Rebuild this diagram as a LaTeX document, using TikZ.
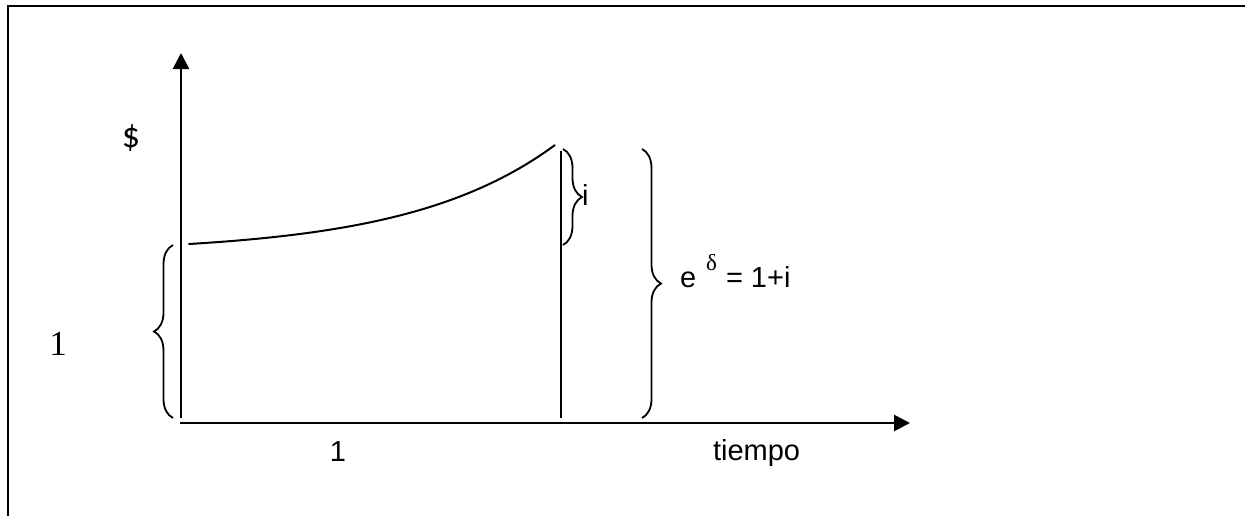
\documentclass[tikz,border=0pt]{standalone}
\usepackage{fontspec}
\setmainfont{Liberation Sans}
\newfontfamily\serifface{Liberation Serif}
\newfontfamily\califace{Carlito}
\usetikzlibrary{arrows.meta,decorations.pathreplacing}
\begin{document}
\begin{tikzpicture}[x=1pt,y=-1pt,
  lbl/.style={inner sep=0pt,outer sep=0pt,font=\fontsize{29}{30}\selectfont},
  axisline/.style={line width=2.7pt,-{Triangle[length=16pt,width=16pt]}},
  thinline/.style={line width=2pt},
  curly/.style={line width=1.8pt,decorate,decoration={brace,amplitude=19pt}},
  frameline/.style={line width=2.8pt}]
\useasboundingbox (0,0) rectangle (1245,515);
% frame
\coordinate (fbl) at (8,520);
\coordinate (ftl) at (8,6);
\coordinate (ftr) at (1250,6);
\draw[frameline] (fbl) -- (ftl) -- (ftr);
% axes
\coordinate (yb) at (181,418);
\coordinate (yt) at (181,53);
\coordinate (xl) at (180,423);
\coordinate (xr) at (910,423);
\draw[axisline] (yb) -- (yt);
\draw[axisline] (xl) -- (xr);
% curve
\draw[thinline,line cap=round] plot[domain=0:1,samples=60,smooth]
  ({189+366*\x},{244-99*(exp(2.5*\x)-1)/(exp(2.5)-1)});
% vertical line at t=1
\coordinate (vt) at (561,151);
\coordinate (vb) at (561,418);
\draw[thinline] (vt) -- (vb);
% braces
\coordinate (lb1) at (173,418);
\coordinate (lb2) at (173,245);
\draw[curly] (lb1) -- (lb2);
\coordinate (sb1) at (563,149);
\coordinate (sb2) at (563,245);
\draw[curly] (sb1) -- (sb2);
\coordinate (bb1) at (642,149);
\coordinate (bb2) at (642,418);
\draw[curly] (bb1) -- (bb2);
% labels
\node[lbl,font=\califace\fontsize{36}{38}\selectfont] (dollar) at (131,138) {\$};
\node[lbl,anchor=base,font=\serifface\fontsize{35}{36}\selectfont] (one) at (58,355) {1};
\node[lbl,anchor=base] (onex) at (338,461) {1};
\node[lbl,anchor=base west] (tiempo) at (713,460) {tiempo};
\node[lbl,anchor=base west] (ilab) at (582,205) {i};
\node[lbl,anchor=base west] (e) at (680,287) {e};
\node[lbl,anchor=base west,font=\serifface\fontsize{23}{24}\selectfont] (delta) at (706,270) {δ};
\node[lbl,anchor=base west] (eq) at (726,287) {= 1+i};
\end{tikzpicture}
\end{document}
